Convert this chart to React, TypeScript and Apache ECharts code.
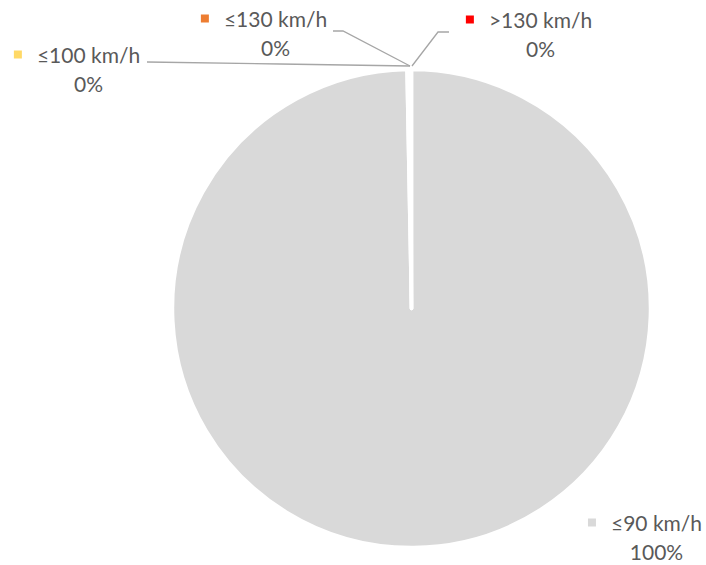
import React, { useEffect, useRef } from "react";
import * as echarts from "echarts";

const categories = ["≤90 km/h", "≤100 km/h", "≤130 km/h", ">130 km/h"];
const values = [99.7, 0.15, 0.1, 0.05];
const colors = ["#D9D9D9", "#FFD966", "#ED7D31", "#FF0000"];

// label block centres and leader-line routes (layout only)
const labelAnchors: [number, number][] = [
  [645, 537],
  [77, 69],
  [264, 33],
  [529, 34],
];
const leaderLines: ([number, number][] | null)[] = [
  null,
  [[410, 66], [280, 64], [147, 62]],
  [[410, 66], [343, 31], [333, 31]],
  [[412, 66], [438, 32], [449, 32]],
];

const FONT = "Lato, 'Open Sans', sans-serif";
const TEXT = "#595959";

export default function App() {
  const ref = useRef<HTMLDivElement>(null);
  useEffect(() => {
    if (!ref.current) return;
    const chart = echarts.init(ref.current, undefined, { renderer: "svg" });
    const rich: Record<string, any> = {
      name: { fontSize: 21, fontFamily: FONT, color: TEXT, lineHeight: 29, padding: [0, 0, 0, 15] },
      pct: { fontSize: 21, fontFamily: FONT, color: TEXT, lineHeight: 29, padding: [0, 0, 0, 23] },
    };
    colors.forEach((c, i) => {
      rich["sq" + i] = { width: 8, height: 8, backgroundColor: c, verticalAlign: "middle" };
    });
    chart.setOption({
      animation: false,
      series: [
        {
          type: "pie",
          center: [411.5, 308.5],
          radius: 239,
          startAngle: 90,
          clockwise: true,
          avoidLabelOverlap: false,
          silent: true,
          itemStyle: { borderColor: "#ffffff", borderWidth: 3.5 },
          label: {
            show: true,
            position: "outside",
            fontFamily: FONT,
            fontSize: 21,
            color: TEXT,
            align: "center",
            rich,
            formatter: (p: any) =>
              `{sq${p.dataIndex}|}{name|${p.name}}\n{pct|${Math.round(p.percent)}%}`,
          },
          labelLine: {
            show: true,
            lineStyle: { color: "#A6A6A6", width: 1.3 },
          },
          labelLayout: (params: any) => {
            const i = params.dataIndex;
            const a = labelAnchors[i];
            const out: any = { x: a[0], y: a[1], align: "center", verticalAlign: "middle" };
            if (leaderLines[i]) out.labelLinePoints = leaderLines[i];
            return out;
          },
          data: categories.map((name, i) => ({
            name,
            value: values[i],
            itemStyle: { color: colors[i] },
            labelLine: { show: leaderLines[i] !== null },
          })),
        },
      ],
    });
    return () => chart.dispose();
  }, []);
  return (
    <div
      ref={ref}
      style={{ position: "fixed", left: 0, top: 0, width: 706, height: 565, background: "#fff" }}
    />
  );
}
